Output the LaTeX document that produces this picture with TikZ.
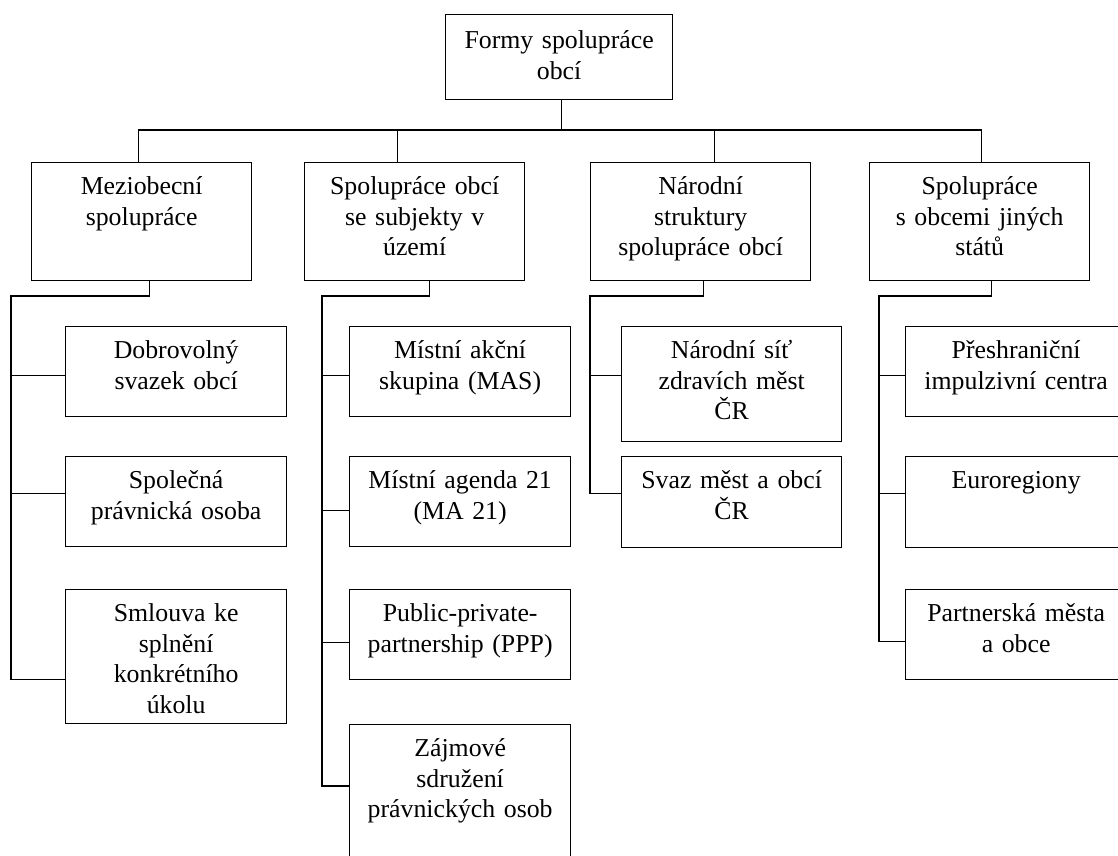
\documentclass[tikz,border=0pt]{standalone}
\usepackage{fontspec}
\setmainfont{Liberation Serif}
\usepackage{tikz}

\tikzset{
  box/.style={draw, line width=1.3pt, anchor=north west, inner sep=0pt,
    align=center, text width=221pt, text height=32pt, text depth=58pt,
    font=\fontsize{25.8}{30.5}\selectfont},
  conn/.style={line width=1.3pt}
}

\begin{document}
\begin{tikzpicture}[x=1pt,y=-1pt]
\useasboundingbox (0,0) rectangle (1118,855);
\clip (0,0) rectangle (1118,855);
% top and second row
\node[box,text width=227pt,text height=34pt,text depth=51pt] (formy) at (445,14) {Formy spolupráce\\obcí};
\node[box,text width=220pt,text depth=86pt] (mezi) at (31,162) {Meziobecní\\spolupráce};
\node[box,text width=220pt,text depth=86pt] (subj) at (304,162) {Spolupráce obcí\\se subjekty v\\území};
\node[box,text width=220pt,text depth=86pt] (narod) at (590,162) {Národní\\struktury\\spolupráce obcí};
\node[box,text width=220pt,text depth=86pt] (zahr) at (869,162) {Spolupráce\\s obcemi jiných\\států};
% first column
\node[box] (dobr) at (65,326) {Dobrovolný\\svazek obcí};
\node[box] (spol) at (65,456) {Společná\\právnická osoba};
\node[box,text depth=102pt] (smlouva) at (65,589) {Smlouva ke\\splnění\\konkrétního\\úkolu};
% second column
\node[box] (mas) at (349,326) {Místní akční\\skupina (MAS)};
\node[box] (ma21) at (349,456) {Místní agenda 21\\(MA 21)};
\node[box] (ppp) at (349,589) {Public-private-\\partnership (PPP)};
\node[box,text depth=110pt] (zajm) at (349,724) {Zájmové\\sdružení\\právnických osob};
% third column
\node[box,text width=220pt,text depth=83pt] (nsit) at (621,326) {Národní síť\\zdravích měst\\ČR};
\node[box,text width=220pt,text depth=59pt] (svaz) at (621,456) {Svaz měst a obcí\\ČR};
% fourth column
\node[box] (preshr) at (905,326) {Přeshraniční\\impulzivní centra};
\node[box,text depth=59pt] (euro) at (905,456) {Euroregiony};
\node[box] (partner) at (905,589) {Partnerská města\\a obce};
% upper connectors
\coordinate (bus) at (0,130);
\draw[conn] ([xshift=2.5pt]formy.south) -- ([xshift=2.5pt]formy.south |- bus);
\draw[conn] ([xshift=-3pt]mezi.north) |- ([xshift=2pt]zahr.north |- bus) -- ([xshift=2pt]zahr.north);
\draw[conn] ([xshift=-17pt]subj.north) -- ([xshift=-17pt]subj.north |- bus);
\draw[conn] ([xshift=14pt]narod.north) -- ([xshift=14pt]narod.north |- bus);
% first column connectors
\coordinate (t1) at (11,296);
\draw[conn] ([xshift=8pt]mezi.south) |- (t1) |- ([yshift=-23pt]smlouva.west);
\draw[conn] ([yshift=-4pt]dobr.west) -- ([yshift=-4pt]dobr.west -| t1);
\draw[conn] ([yshift=8pt]spol.west) -- ([yshift=8pt]spol.west -| t1);
% second column connectors
\coordinate (t2) at (322,296);
\draw[conn] ([xshift=15pt]subj.south) |- (t2) |- ([yshift=-62pt]zajm.north west);
\draw[conn] ([yshift=-4pt]mas.west) -- ([yshift=-4pt]mas.west -| t2);
\draw[conn] ([yshift=-9pt]ma21.west) -- ([yshift=-9pt]ma21.west -| t2);
\draw[conn] ([yshift=-8pt]ppp.west) -- ([yshift=-8pt]ppp.west -| t2);
% third column connectors
\coordinate (t3) at (590,296);
\draw[conn] ([xshift=3pt]narod.south) |- (t3) |- ([yshift=8.5pt]svaz.west);
\draw[conn] ([yshift=8.5pt]nsit.west) -- ([yshift=8.5pt]nsit.west -| t3);
% fourth column connectors
\coordinate (t4) at (879,296);
\draw[conn] ([xshift=12pt]zahr.south) |- (t4) |- ([yshift=-7pt]partner.west);
\draw[conn] ([yshift=-4pt]preshr.west) -- ([yshift=-4pt]preshr.west -| t4);
\draw[conn] ([yshift=8.5pt]euro.west) -- ([yshift=8.5pt]euro.west -| t4);
\end{tikzpicture}
\end{document}
